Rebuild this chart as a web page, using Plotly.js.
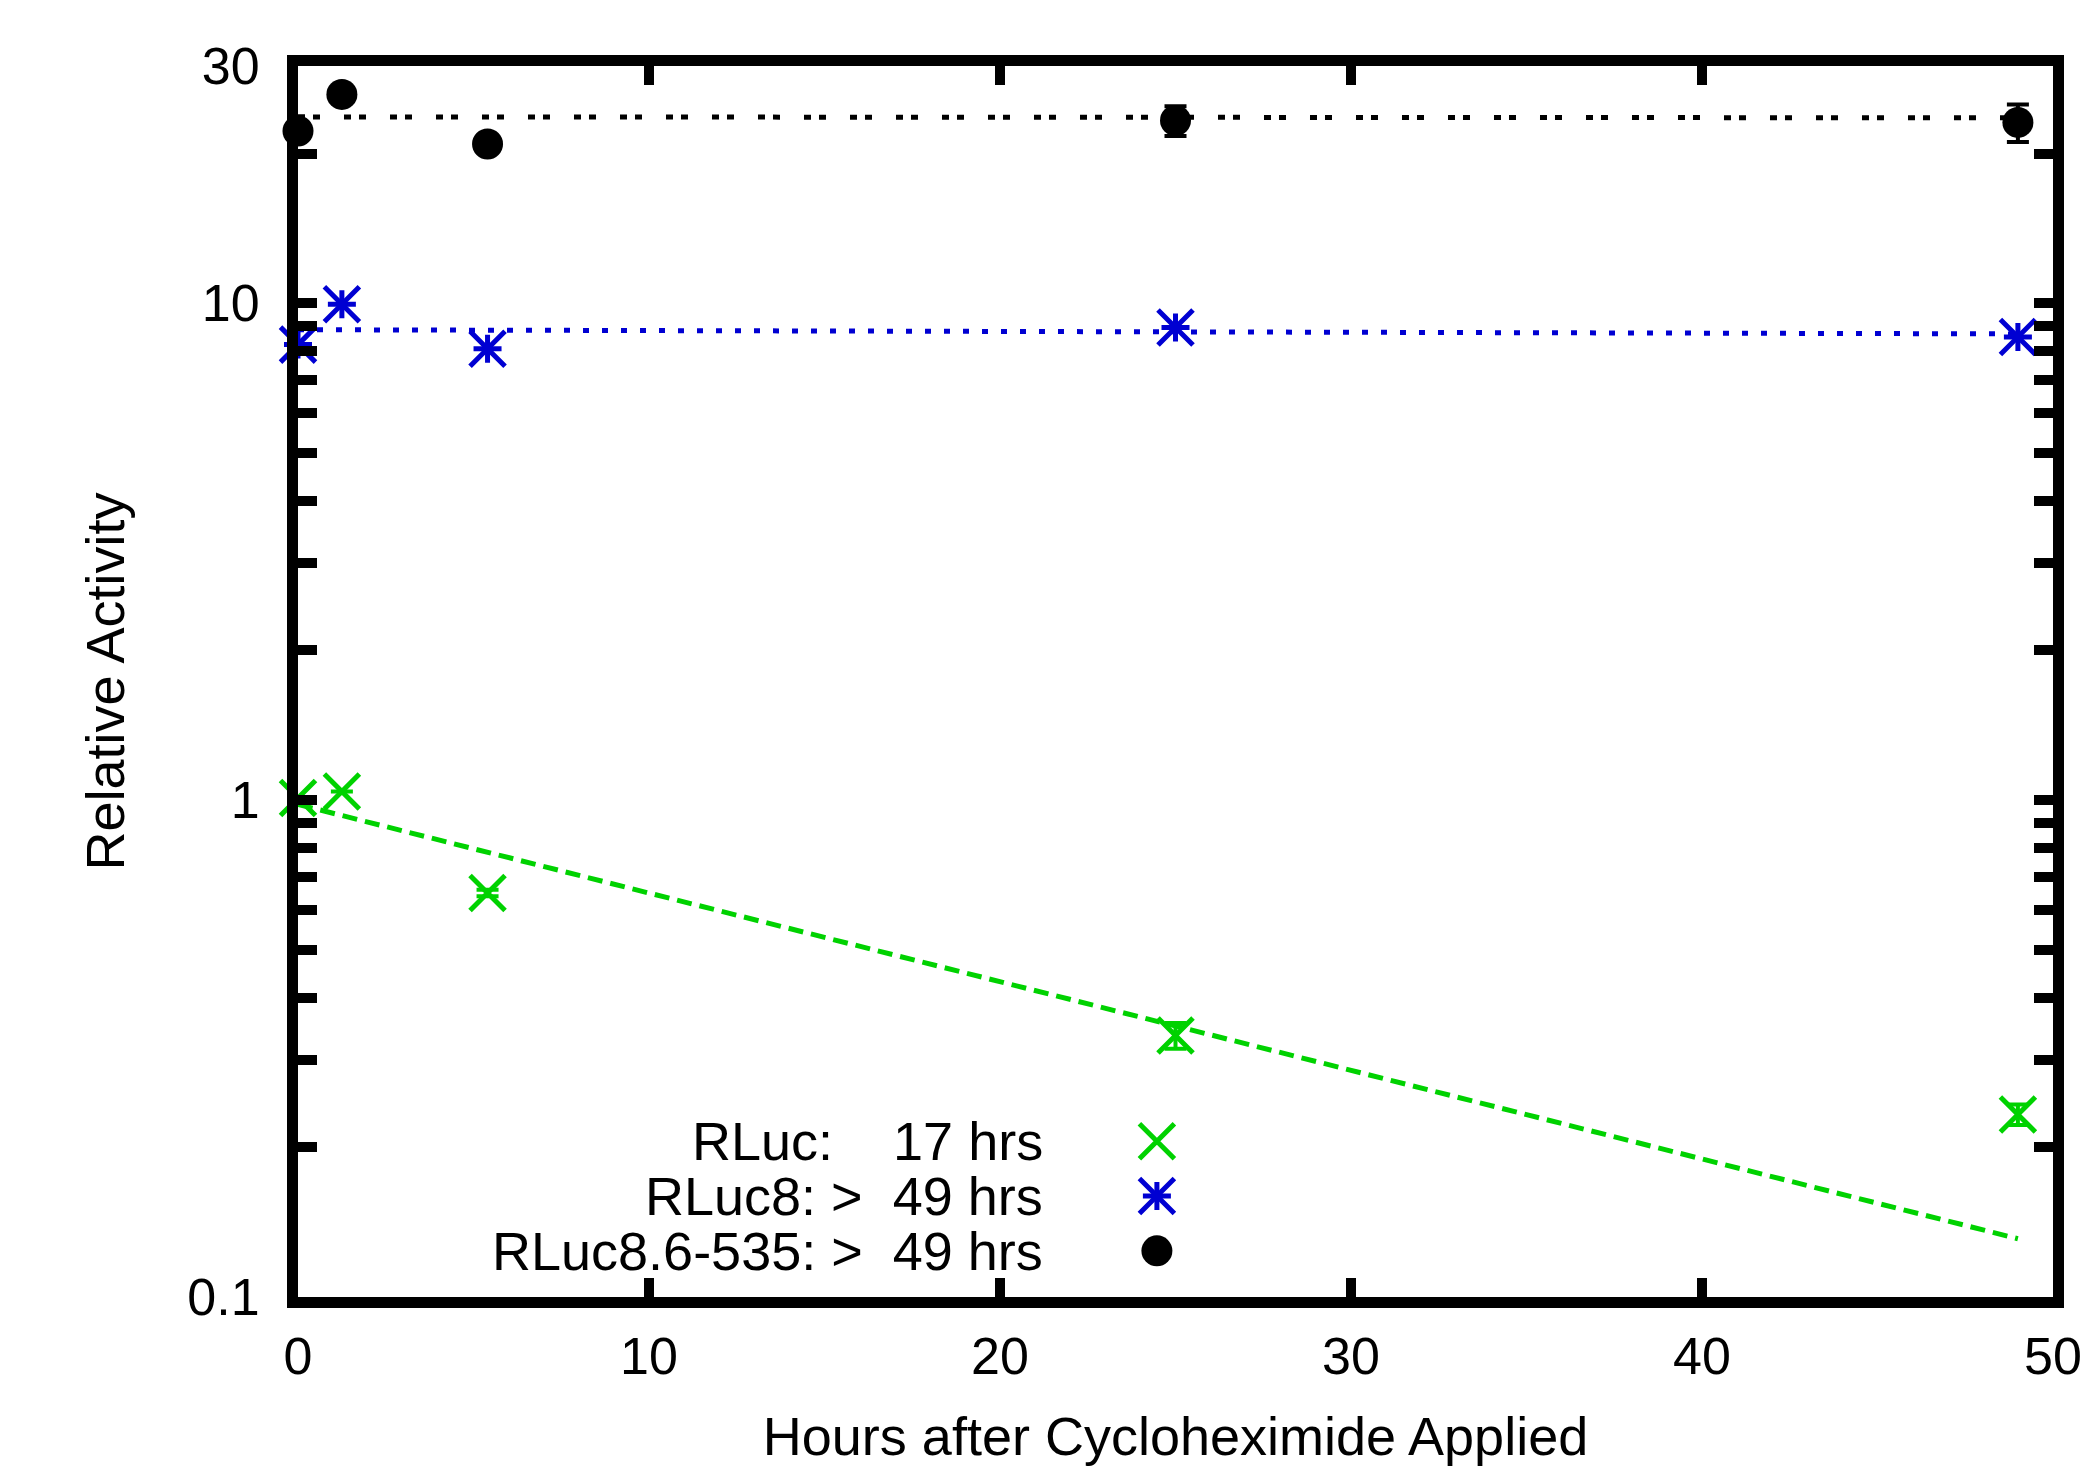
<!DOCTYPE html>
<html>
<head>
<meta charset="utf-8">
<script src="https://cdn.plot.ly/plotly-3.0.1.min.js"></script>
<style>
html, body { margin: 0; padding: 0; background: #ffffff; }
#chart { width: 2089px; height: 1466px; }
</style>
</head>
<body>
<div id="chart"></div>
<script>
// ---------- data ----------
const hours = [0, 1.25, 5.4, 25, 49];

const rlucActivity   = [1.01, 1.04, 0.65, 0.336, 0.233];
const rlucError      = [null, null, 0.01, 0.02, 0.011];

const rluc8Activity  = [8.25, 9.95, 8.09, 8.93, 8.55];

const rluc86Activity = [22.2, 26.3, 20.9, 23.3, 23.1];
const rluc86Error    = [null, null, null, 1.6, 2.0];

// exponential fits (straight lines on the log axis), end points
const fitHours  = [0, 49];
const rlucFit   = [0.98, 0.131];
const rluc8Fit  = [8.84, 8.67];
const rluc86Fit = [23.7, 23.6];

const legendLabels = [
  'RLuc:\u00a0\u00a0\u00a0\u00a017 hrs',
  'RLuc8: >\u00a0\u00a049 hrs',
  'RLuc8.6-535: >\u00a0\u00a049 hrs'
];

const xTickVals = [0, 10, 20, 30, 40, 50];
const xTickText = ['0', '10', '20', '30', '40', '50'];
const yTickVals = [0.1, 0.2, 0.3, 0.4, 0.5, 0.6, 0.7, 0.8, 0.9,
                   1, 2, 3, 4, 5, 6, 7, 8, 9,
                   10, 20, 30];
const yTickText = ['0.1', '', '', '', '', '', '', '', '',
                   '1', '', '', '', '', '', '', '', '',
                   '10', '', '30'];

const xTitle = 'Hours after Cycloheximide Applied';
const yTitle = 'Relative Activity';

// ---------- styling ----------
const GREEN = '#00d200';
const BLUE  = '#0000d2';
const BLACK = '#000000';
const FONT  = 'Liberation Sans, Arial, Helvetica, sans-serif';

const traces = [
  { x: fitHours, y: rlucFit, mode: 'lines', showlegend: false, hoverinfo: 'skip',
    line: { color: GREEN, width: 5, dash: '15px,8px' } },
  { x: fitHours, y: rluc8Fit, mode: 'lines', showlegend: false, hoverinfo: 'skip',
    line: { color: BLUE, width: 5, dash: '6px,13px' } },
  { x: fitHours, y: rluc86Fit, mode: 'lines', showlegend: false, hoverinfo: 'skip',
    line: { color: BLACK, width: 5, dash: '7px,8px,7px,24px' } },

  { x: hours, y: rlucActivity, mode: 'markers', showlegend: false, cliponaxis: false,
    marker: { symbol: 'x-thin-open', size: 35, color: GREEN, line: { color: GREEN, width: 5 } },
    error_y: { type: 'data', array: rlucError, color: GREEN, thickness: 4, width: 11 } },

  { x: hours, y: rluc8Activity, mode: 'markers', showlegend: false, cliponaxis: false,
    marker: { symbol: 'cross-thin-open', size: 20, color: BLUE, line: { color: BLUE, width: 5 } } },
  { x: hours, y: rluc8Activity, mode: 'markers', showlegend: false, cliponaxis: false,
    marker: { symbol: 'x-thin-open', size: 35, color: BLUE, line: { color: BLUE, width: 5 } } },

  { x: hours, y: rluc86Activity, mode: 'markers', showlegend: false, cliponaxis: false,
    marker: { symbol: 'circle', size: 31, color: BLACK, line: { width: 0 } },
    error_y: { type: 'data', array: rluc86Error, color: BLACK, thickness: 4, width: 11 } }
];

// legend keys (on a hidden 0..1 helper axis pair)
const keyX = 0.4894;
const keyY = [0.1265, 0.0820, 0.0375];
traces.push(
  { x: [keyX], y: [keyY[0]], xaxis: 'x2', yaxis: 'y2', mode: 'markers', showlegend: false, hoverinfo: 'skip',
    marker: { symbol: 'x-thin-open', size: 35, color: GREEN, line: { color: GREEN, width: 5 } } },
  { x: [keyX], y: [keyY[1]], xaxis: 'x2', yaxis: 'y2', mode: 'markers', showlegend: false, hoverinfo: 'skip',
    marker: { symbol: 'cross-thin-open', size: 20, color: BLUE, line: { color: BLUE, width: 5 } } },
  { x: [keyX], y: [keyY[1]], xaxis: 'x2', yaxis: 'y2', mode: 'markers', showlegend: false, hoverinfo: 'skip',
    marker: { symbol: 'x-thin-open', size: 35, color: BLUE, line: { color: BLUE, width: 5 } } },
  { x: [keyX], y: [keyY[2]], xaxis: 'x2', yaxis: 'y2', mode: 'markers', showlegend: false, hoverinfo: 'skip',
    marker: { symbol: 'circle', size: 31, color: BLACK, line: { width: 0 } } }
);

const legendTextX = 0.4255;
const annotations = legendLabels.map((t, i) => ({
  xref: 'paper', yref: 'paper', x: legendTextX, y: keyY[i],
  xanchor: 'right', yanchor: 'middle', showarrow: false,
  text: t, font: { family: FONT, size: 54, color: BLACK }
}));

const axisCommon = {
  showgrid: false, zeroline: false,
  showline: true, linewidth: 11, linecolor: BLACK, mirror: 'ticks',
  ticks: 'inside', ticklen: 19, tickwidth: 10, tickcolor: BLACK,
  tickfont: { family: FONT, size: 52, color: BLACK }
};

const layout = {
  width: 2089, height: 1466,
  paper_bgcolor: '#ffffff', plot_bgcolor: '#ffffff',
  margin: { l: 298, r: 36, t: 66, b: 169 },
  showlegend: false,
  xaxis: Object.assign({}, axisCommon, {
    range: [0, 50], tickmode: 'array', tickvals: xTickVals, ticktext: xTickText,
    ticklabelstandoff: 4,
    title: { text: xTitle, font: { family: FONT, size: 54, color: BLACK }, standoff: 44 }
  }),
  yaxis: Object.assign({}, axisCommon, {
    type: 'log', range: [-1, Math.log10(30)], tickmode: 'array', tickvals: yTickVals, ticktext: yTickText,
    ticklabelstandoff: 17,
    title: { text: yTitle, font: { family: FONT, size: 54, color: BLACK }, standoff: 50 }
  }),
  xaxis2: { overlaying: 'x', range: [0, 1], visible: false, anchor: 'y2' },
  yaxis2: { overlaying: 'y', range: [0, 1], visible: false, anchor: 'x2' },
  annotations: annotations
};

Plotly.newPlot('chart', traces, layout, { displayModeBar: false, staticPlot: true });
</script>
</body>
</html>
